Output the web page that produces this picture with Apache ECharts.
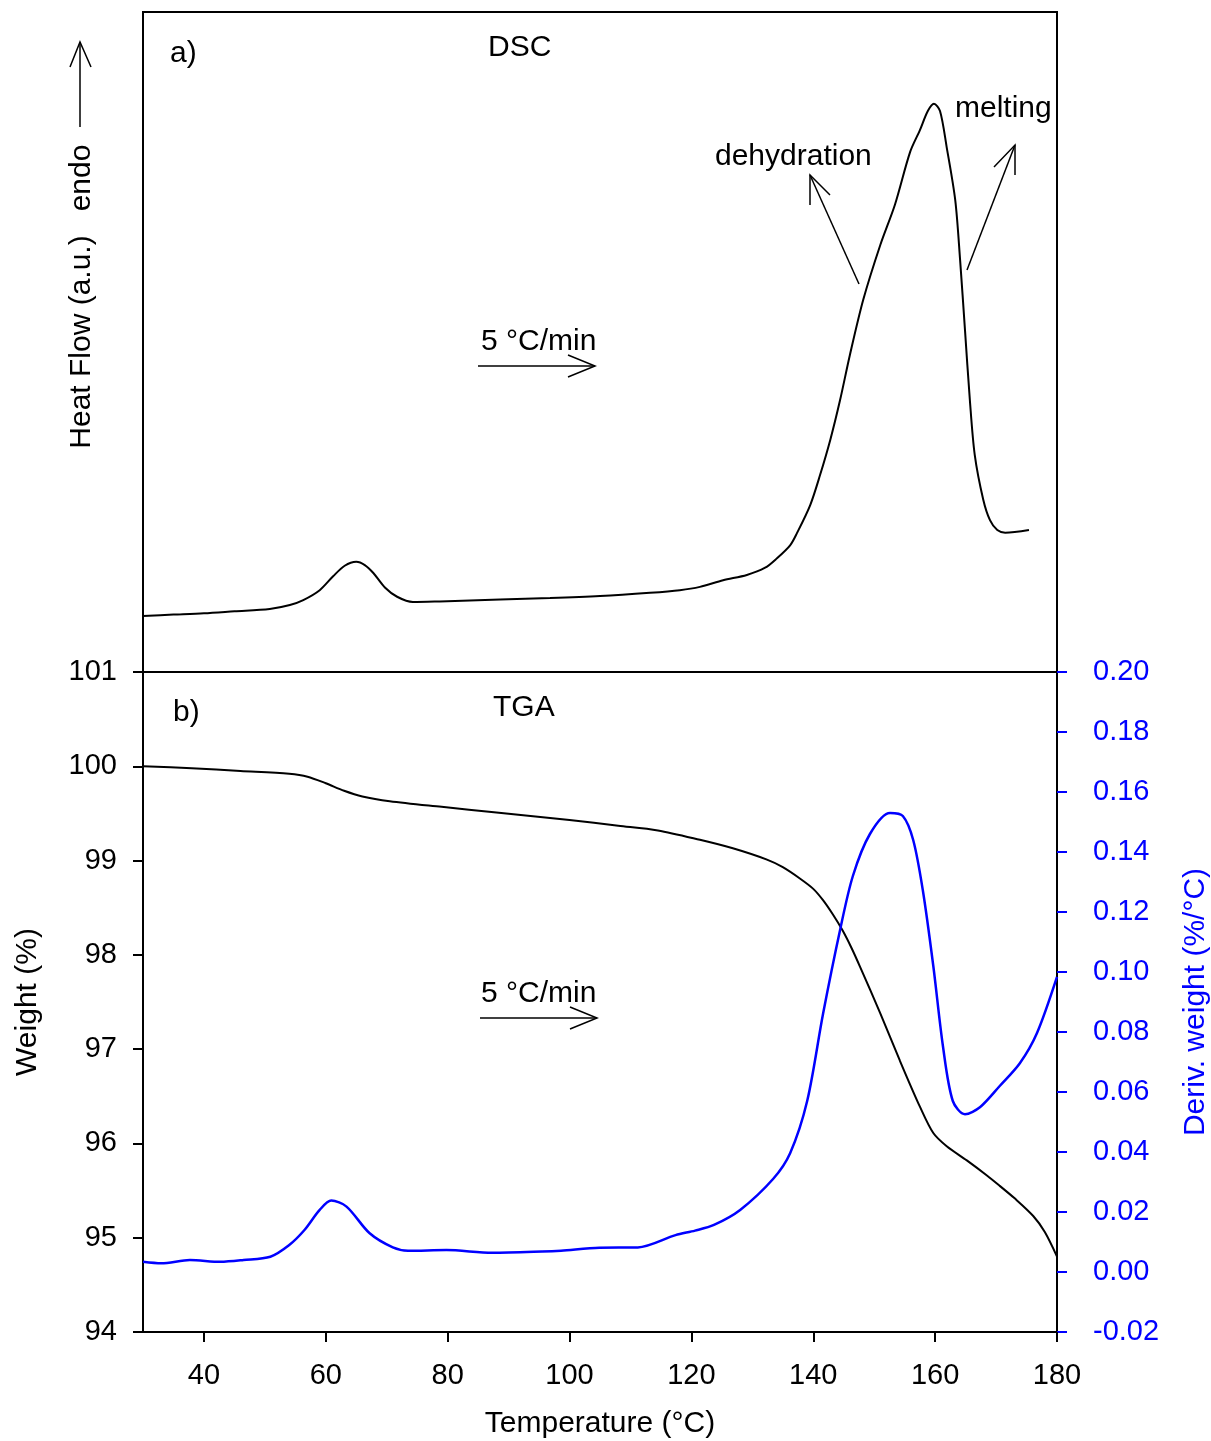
<!DOCTYPE html>
<html>
<head>
<meta charset="utf-8">
<script src="https://cdn.jsdelivr.net/npm/echarts@6/dist/echarts.min.js"></script>
<style>
  html, body { margin: 0; padding: 0; background: #fff; }
  #main { width: 1211px; height: 1441px; }
</style>
</head>
<body>
<div id="main"></div>
<script>
// DSC (top panel), arbitrary units
let dscTemp = [30, 35, 40, 45, 50.8, 54.1, 56.3, 59, 61.2, 63.1, 65, 66.4, 67.8, 69.7, 71.7, 74.3, 78.7, 88.6, 96.8, 105,
    113.2, 118.1, 121.4, 125.2, 129.1, 132.1, 134, 136.2, 137.3, 139.5, 141.1, 142.8, 144.4, 146, 148.2, 151, 153.4,
    155.9, 157.5, 158.8, 159.8, 160.8, 161.9, 163.3, 164.1, 164.9, 165.7, 166.5, 167.9, 169, 170.2, 171.5, 175.4]
let dscFlow = [8.5, 8.7, 8.9, 9.2, 9.55, 10.15, 10.9, 12.4, 14.5, 16.1, 16.7, 16.2, 15.0, 12.8, 11.4, 10.6, 10.7, 11.0, 11.2, 11.5,
    12.0, 12.4, 12.9, 13.9, 14.7, 15.8, 17.2, 19.2, 21.0, 25.3, 29.8, 35.2, 41.2, 48.0, 56.4, 64.7, 70.8,
    78.8, 82.1, 85.0, 86.1, 85.0, 79.5, 71.5, 62.4, 51.8, 41.2, 32.9, 26.1, 23.0, 21.5, 21.1, 21.5]

// TGA weight (%)
let tgaTemp = [30, 38, 46, 54, 57, 60, 63, 66, 70.5, 79, 88, 100, 108, 114.5, 121.4, 126.8, 132.4, 135, 137.8, 140, 141.6,
    143.2, 144.8, 146.3, 147.7, 151, 154.2, 157.5, 159.7, 161.9, 165.2, 168.5, 170.6, 173, 176.1, 178, 180]
let tgaWeight = [100.0, 99.98, 99.95, 99.92, 99.89, 99.82, 99.74, 99.68, 99.63, 99.57, 99.51, 99.43, 99.37, 99.32, 99.22, 99.13,
    99.01, 98.93, 98.81, 98.70, 98.58, 98.43, 98.26, 98.07, 97.87, 97.38, 96.88, 96.39, 96.11, 95.97, 95.82, 95.66,
    95.55, 95.42, 95.23, 95.06, 94.80]

// derivative weight (%/°C)
let dtgTemp = [30, 33, 37.7, 42.7, 46.5, 50.9, 54, 56.5, 59, 60.9, 63.4, 67.2, 71, 73.5, 79.8, 87.3, 95.5, 98.6, 104.9, 111.2,
    117.4, 120.6, 123.7, 128, 133.4, 136.2, 139, 141.6, 144.4, 146.5, 149.3, 152.6, 154.7, 156.4, 158, 159.7, 161.3,
    162.9, 164.9, 167.4, 170.6, 173.9, 176.7, 180]
let dtgDeriv = [0.0034, 0.0029, 0.0040, 0.0034, 0.0040, 0.0051, 0.0090, 0.0140, 0.0207, 0.0238, 0.0218, 0.0129, 0.0082, 0.0071,
    0.0073, 0.0064, 0.0068, 0.0071, 0.0081, 0.0082, 0.0123, 0.0138, 0.0157, 0.0207, 0.0310, 0.0396, 0.0570, 0.0860,
    0.1140, 0.1320, 0.1460, 0.1530, 0.1520, 0.1440, 0.1270, 0.1020, 0.0750, 0.0570, 0.0526, 0.0550, 0.0620, 0.0696,
    0.0796, 0.0984]

let xTicks = [40, 60, 80, 100, 120, 140, 160, 180]

function pairs(xs, ys) {
    return xs.map(function (x, i) { return [x, ys[i]] })
}

let FONT = 'Liberation Sans, Arial, sans-serif'
let BLUE = '#0000ff'

function label(text, x, y) {
    return {
        type: 'text', x: x, y: y,
        style: { text: text, fill: '#000', font: '30px ' + FONT, align: 'left', verticalAlign: 'middle' }
    }
}
function seg(points) {
    return {
        type: 'polyline',
        shape: { points: points },
        style: { stroke: '#000', lineWidth: 1.5, fill: null }
    }
}

var myChart = echarts.init(document.getElementById('main'))
var option = {
    animation: false,
    backgroundColor: '#fff',
    textStyle: { fontFamily: FONT },
    grid: [
        { left: 143, top: 12, width: 914, height: 660, show: true, borderColor: '#000', borderWidth: 2,
          containLabel: false, outerBoundsMode: 'none' },
        { left: 143, top: 672, width: 914, height: 660, show: true, borderColor: '#000', borderWidth: 2,
          containLabel: false, outerBoundsMode: 'none' }
    ],
    xAxis: [
        { type: 'value', gridIndex: 0, min: 30, max: 180, show: false },
        {
            type: 'value', gridIndex: 1, min: 30, max: 180,
            name: 'Temperature (°C)', nameLocation: 'middle', nameGap: 77,
            nameTextStyle: { fontSize: 30, color: '#000', fontFamily: FONT },
            axisLine: { onZero: false, lineStyle: { color: '#000', width: 2 } },
            axisTick: { show: true, inside: false, length: 10, customValues: xTicks, lineStyle: { color: '#000', width: 2 } },
            axisLabel: { customValues: xTicks, fontSize: 29, color: '#000', margin: 29, fontFamily: FONT },
            splitLine: { show: false }
        }
    ],
    yAxis: [
        {
            type: 'value', gridIndex: 0, min: 0, max: 100,
            name: 'Heat Flow (a.u.)', nameLocation: 'middle', nameGap: 46, nameRotate: 90,
            nameTextStyle: { fontSize: 30, color: '#000', fontFamily: FONT },
            axisLine: { show: false }, axisTick: { show: false }, axisLabel: { show: false }, splitLine: { show: false }
        },
        {
            type: 'value', gridIndex: 1, min: 94, max: 101, interval: 1, position: 'left',
            name: 'Weight (%)', nameLocation: 'middle', nameGap: 100, nameRotate: 90,
            nameTextStyle: { fontSize: 30, color: '#000', fontFamily: FONT },
            axisLine: { show: true, onZero: false, lineStyle: { color: '#000', width: 2 } },
            axisTick: { show: true, length: 10, lineStyle: { color: '#000', width: 2 } },
            axisLabel: { fontSize: 29, color: '#000', margin: 26, fontFamily: FONT },
            splitLine: { show: false }
        },
        {
            type: 'value', gridIndex: 1, min: -0.02, max: 0.2, interval: 0.02, position: 'right',
            name: 'Deriv. weight (%/°C)', nameLocation: 'middle', nameGap: 124, nameRotate: 90,
            nameTextStyle: { fontSize: 30, color: BLUE, fontFamily: FONT },
            axisLine: { show: true, onZero: false, lineStyle: { color: '#000', width: 2 } },
            axisTick: { show: true, length: 10, lineStyle: { color: BLUE, width: 2 } },
            axisLabel: {
                fontSize: 29, color: BLUE, margin: 36, fontFamily: FONT,
                formatter: function (v) { return v.toFixed(2) }
            },
            splitLine: { show: false }
        }
    ],
    series: [
        {
            name: 'DSC', type: 'line', xAxisIndex: 0, yAxisIndex: 0,
            data: pairs(dscTemp, dscFlow), showSymbol: false, smooth: 0.3,
            lineStyle: { color: '#000', width: 2 }
        },
        {
            name: 'Weight', type: 'line', xAxisIndex: 1, yAxisIndex: 1,
            data: pairs(tgaTemp, tgaWeight), showSymbol: false, smooth: 0.3,
            lineStyle: { color: '#000', width: 2 }
        },
        {
            name: 'Deriv. weight', type: 'line', xAxisIndex: 1, yAxisIndex: 2,
            data: pairs(dtgTemp, dtgDeriv), showSymbol: false, smooth: 0.3,
            lineStyle: { color: BLUE, width: 2.5 }
        }
    ],
    graphic: [
        label('a)', 170, 54),
        label('DSC', 488, 48),
        label('b)', 173, 713),
        label('TGA', 493, 708),
        label('5 °C/min', 481, 342),
        label('5 °C/min', 481, 994),
        label('dehydration', 715, 157),
        label('melting', 955, 109),
        {
            type: 'text', x: 82, y: 178, rotation: Math.PI / 2,
            style: { text: 'endo', fill: '#000', font: '30px ' + FONT, align: 'center', verticalAlign: 'middle' }
        },
        // heating-rate arrows
        seg([[478, 366], [595, 366]]), seg([[568, 355], [595, 366], [568, 377]]),
        seg([[480, 1018], [597, 1018]]), seg([[570, 1007], [597, 1018], [570, 1029]]),
        // dehydration / melting pointers
        seg([[859, 284], [810, 175]]), seg([[810, 205], [810, 175], [830, 195]]),
        seg([[967, 270], [1015, 145]]), seg([[994, 167], [1015, 145], [1015, 175]]),
        // endo arrow
        seg([[80, 127], [80, 42]]), seg([[70, 67], [80, 42], [91, 67]])
    ]
}
option && myChart.setOption(option)
</script>
</body>
</html>
